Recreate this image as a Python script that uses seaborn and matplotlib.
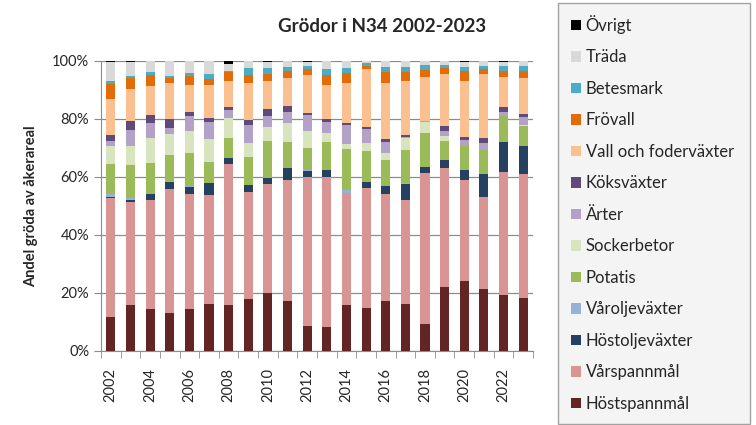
import matplotlib
matplotlib.use("Agg")
import matplotlib.pyplot as plt
from matplotlib.patches import Patch
from matplotlib.ticker import PercentFormatter, FixedLocator
import pandas as pd
import seaborn as sns

years = list(range(2002, 2024))

# andel (%) av åkerarealen per gröda och år
hostspannmal = [11.8, 15.9, 14.6, 13.1, 14.5, 16.2, 15.9, 17.9, 19.9, 17.2, 8.6,
                8.4, 15.9, 14.9, 17.2, 16.4, 9.3, 22.0, 24.1, 21.4, 19.3, 18.2]
varspannmal = [40.8, 35.6, 37.5, 42.8, 39.6, 37.6, 48.8, 37.0, 37.7, 41.8, 51.5,
               51.7, 38.5, 41.2, 36.9, 36.0, 52.2, 41.3, 35.1, 31.8, 42.5, 42.8]
hostoljevaxter = [0.4, 0.7, 2.0, 2.5, 2.6, 4.2, 1.9, 2.3, 1.9, 4.0, 2.1,
                  2.3, 0.1, 2.1, 2.8, 5.6, 2.1, 2.6, 3.2, 7.8, 10.4, 9.7]
varoljevaxter = [1.1, 0.4, 0.1, 0.2, 0.1, 0.1, 0.1, 0.1, 0.1, 0.1, 0.3,
                 0.1, 1.1, 0.1, 0.1, 0.1, 0.1, 0.1, 0.1, 0.1, 0.1, 0.1]
potatis = [10.3, 11.5, 10.8, 9.0, 11.7, 7.3, 6.8, 9.5, 12.6, 9.1, 7.5,
           9.8, 14.2, 10.9, 9.0, 11.7, 11.5, 6.6, 8.3, 8.3, 8.8, 6.7]
sockerbetor = [6.2, 6.6, 8.5, 7.2, 7.5, 7.8, 7.2, 4.9, 5.0, 6.6, 6.0,
               2.9, 1.7, 2.5, 2.5, 4.0, 4.0, 1.6, 0.1, 0.1, 0.1, 0.5]
arter = [1.8, 5.5, 5.3, 2.1, 5.2, 5.8, 2.8, 6.3, 3.7, 3.6, 5.5,
         4.0, 6.5, 4.8, 3.8, 0.3, 0.1, 1.8, 2.1, 2.5, 1.5, 2.7]
koksvaxter = [2.0, 3.1, 2.7, 3.2, 1.4, 1.3, 0.9, 1.8, 2.3, 2.2, 0.6,
              0.8, 0.6, 0.7, 0.9, 0.8, 0.3, 1.5, 0.9, 1.5, 1.5, 1.1]
vall = [12.4, 11.0, 10.1, 12.4, 9.2, 11.5, 9.1, 12.8, 9.8, 9.6, 13.2,
        11.8, 14.0, 20.0, 19.4, 18.7, 14.9, 18.1, 19.5, 22.2, 10.6, 12.6]
frovall = [5.2, 3.7, 3.7, 1.5, 3.1, 2.1, 2.9, 2.7, 2.3, 2.3, 1.9,
           3.5, 3.2, 1.3, 3.8, 3.1, 2.6, 2.0, 3.4, 1.7, 2.0, 2.3]
betesmark = [1.0, 0.8, 1.0, 0.9, 0.9, 1.7, 0.6, 2.3, 2.3, 1.6, 1.2,
             2.0, 1.8, 0.8, 1.7, 1.7, 1.7, 1.1, 1.2, 1.1, 1.7, 1.7]
trada = [6.6, 4.9, 3.8, 5.1, 4.3, 4.5, 2.1, 2.5, 2.1, 2.0, 1.5,
         2.8, 2.5, 0.8, 2.0, 2.0, 1.4, 1.4, 2.0, 1.7, 1.5, 1.7]
ovrigt = [0.3, 0.3, 0.0, 0.0, 0.0, 0.0, 1.2, 0.0, 0.2, 0.0, 0.2,
          0.0, 0.0, 0.0, 0.0, 0.1, 0.0, 0.0, 0.2, 0.0, 0.2, 0.0]

# legend order, top to bottom (same as the stack)
crops = ["Övrigt", "Träda", "Betesmark", "Frövall", "Vall och foderväxter",
         "Köksväxter", "Ärter", "Sockerbetor", "Potatis", "Våroljeväxter",
         "Höstoljeväxter", "Vårspannmål", "Höstspannmål"]
series = [ovrigt, trada, betesmark, frovall, vall, koksvaxter, arter,
          sockerbetor, potatis, varoljevaxter, hostoljevaxter, varspannmal,
          hostspannmal]
colors = ["#000000", "#d9d9d9", "#4bacc6", "#e36c09", "#fac090", "#604a7b",
          "#b3a2c7", "#d7e4bd", "#9bbb59", "#95b3d7", "#254061", "#d99594",
          "#632523"]

rows = []
for crop, vals in zip(crops, series):
    for yr, v in zip(years, vals):
        rows.append({"year": yr, "crop": crop, "share": v})
df = pd.DataFrame(rows)

sns.set_style("white")
plt.rcParams["font.family"] = ["Lato", "DejaVu Sans"]

fig = plt.figure(figsize=(7.56, 4.25), dpi=100)
ax = fig.add_axes([101 / 756, 1 - 351 / 425, 432 / 756, 290 / 425])

sns.histplot(data=df, x="year", weights="share", hue="crop", hue_order=crops,
             palette=colors, multiple="fill", discrete=True, shrink=0.46,
             alpha=1, linewidth=0, legend=False, ax=ax, zorder=3)

ax.set_xlim(2001.5, 2023.5)
ax.set_ylim(0, 1)
ax.yaxis.set_major_locator(FixedLocator([0, 0.2, 0.4, 0.6, 0.8, 1.0]))
ax.yaxis.set_major_formatter(PercentFormatter(1, decimals=0))
ax.grid(axis="y", color="#8c8c8c", linewidth=0.9, zorder=0)
ax.set_axisbelow(True)

ax.set_xticks(years[::2])
ax.set_xticklabels([str(y) for y in years[::2]], rotation=90)
ax.set_xticks([y - 0.5 for y in years] + [2023.5], minor=True)
ax.tick_params(axis="x", which="major", length=0, pad=12, labelsize=10.5,
               colors="#262626")
ax.tick_params(axis="x", which="minor", length=5, color="#8c8c8c", bottom=True)
ax.tick_params(axis="y", length=5, color="#8c8c8c", left=True, labelsize=10.5,
               labelcolor="#262626")

for side in ["top", "right"]:
    ax.spines[side].set_visible(False)
for side in ["left", "bottom"]:
    ax.spines[side].set_color("#8c8c8c")

ax.set_xlabel("")
ax.set_ylabel("Andel gröda av åkerareal", fontsize=10.5, fontweight="bold",
              labelpad=10)

fig.text(382 / 756, 1 - 27 / 425, "Grödor i N34 2002-2023", ha="center",
         va="center", fontsize=13.5, fontweight="bold")

handles = [Patch(facecolor=c, edgecolor="none") for c in colors]
leg = fig.legend(handles, crops, loc="upper left",
                 bbox_to_anchor=(558 / 756, 1 - 3 / 425, 192 / 756, 0.001),
                 mode="expand", fontsize=12, frameon=True, fancybox=False,
                 labelspacing=0.93, handlelength=0.6, handleheight=0.6,
                 handletextpad=0.3, borderpad=0.75, borderaxespad=0)
leg.get_frame().set_facecolor("#f2f2f2")
leg.get_frame().set_edgecolor("#8c8c8c")
leg.get_frame().set_linewidth(1)

fig.savefig("out.png", dpi=100)
